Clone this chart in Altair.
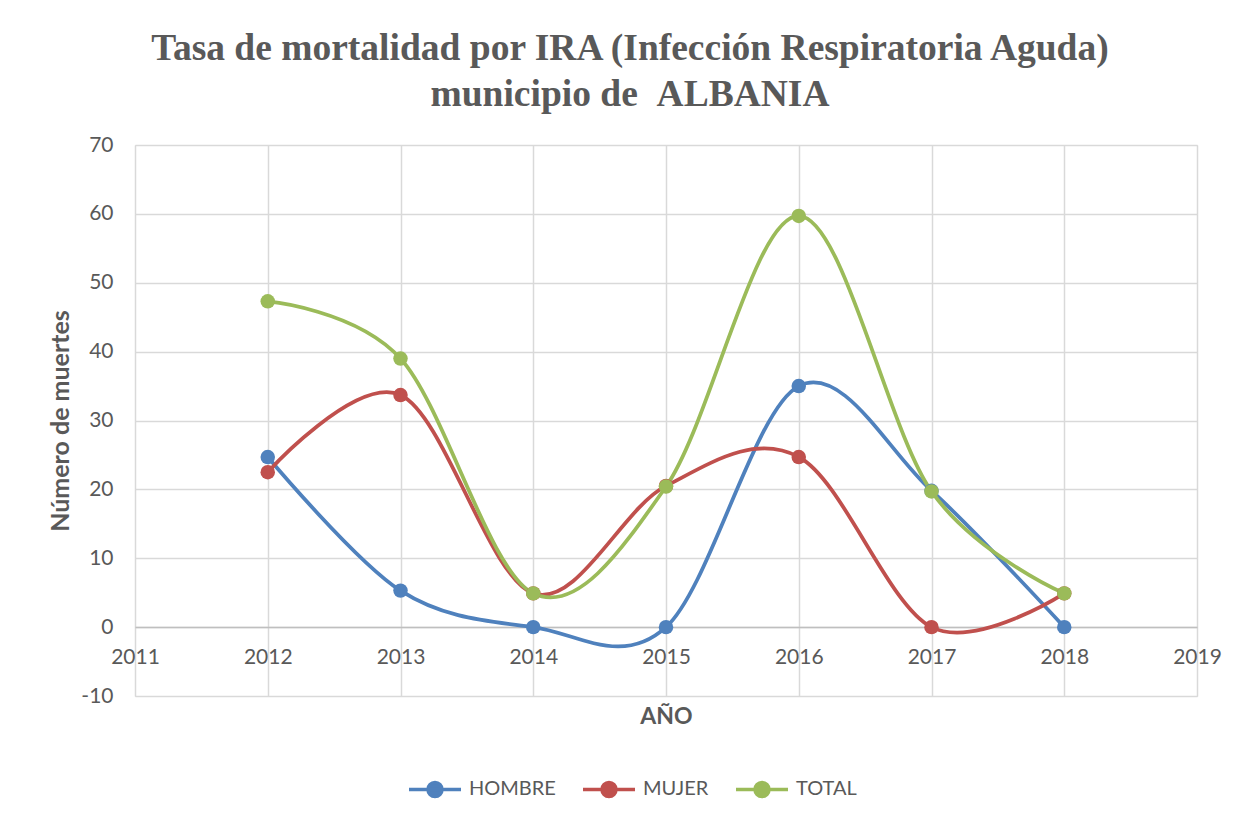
import altair as alt
import pandas as pd

years = [2012, 2013, 2014, 2015, 2016, 2017, 2018]
hombre = [24.7, 5.3, 0.0, 0.0, 35.0, 19.8, 0.0]
mujer = [22.5, 33.7, 4.9, 20.5, 24.7, 0.0, 4.9]
total = [47.3, 39.0, 4.9, 20.4, 59.7, 19.7, 4.9]
series = ["HOMBRE", "MUJER", "TOTAL"]
colors = ["#4f81bd", "#c0504d", "#9bbb59"]
x_ticks = [2011, 2012, 2013, 2014, 2015, 2016, 2017, 2018, 2019]
y_ticks = [-10, 0, 10, 20, 30, 40, 50, 60, 70]

rows = []
for name, vals in zip(series, [hombre, mujer, total]):
    for yr, v in zip(years, vals):
        rows.append({"year": yr, "value": v, "serie": name})
df = pd.DataFrame(rows)

FONT = "Lato"
GRAY = "#595959"
GRID = "#d9d9d9"

symbol_path = ("M-1,0L1,0M0.27,0A0.27,0.27,0,1,1,-0.27,0"
               "A0.27,0.27,0,1,1,0.27,0Z")

x_enc = alt.X(
    "year:Q",
    scale=alt.Scale(domain=[2011, 2019], nice=False, zero=False),
    axis=alt.Axis(
        values=x_ticks, format="d", title="AÑO", offset=-69,
        grid=True, gridColor=GRID, gridWidth=1.5,
        domain=True, domainColor="#bfbfbf", domainWidth=1.5,
        ticks=False, labelPadding=19, labelFontSize=21, labelColor=GRAY,
        labelFont=FONT, titleFont=FONT, titleFontSize=23, titleColor=GRAY,
        titleFontWeight="bold", titlePadding=38, labelFlush=False,
        labelBound=False, labelOverlap=False,
    ),
)
y_enc = alt.Y(
    "value:Q",
    scale=alt.Scale(domain=[-10, 70], nice=False, zero=False),
    axis=alt.Axis(
        values=y_ticks, title="Número de muertes",
        labelExpr="datum.value + ''",
        grid=True, gridColor=GRID, gridWidth=1.5,
        domain=False, ticks=False, labelPadding=22, labelFontSize=21,
        labelColor=GRAY, labelFont=FONT, titleFont=FONT, titleFontSize=25,
        titleColor=GRAY, titleFontWeight="bold", titlePadding=7,
    ),
)
color_enc = alt.Color(
    "serie:N",
    scale=alt.Scale(domain=series, range=colors),
    legend=alt.Legend(
        title=None, orient="none", direction="horizontal",
        legendX=272, legendY=616, symbolType=symbol_path, symbolSize=2704,
        symbolStrokeWidth=3.5, labelFont=FONT, labelFontSize=20,
        labelColor=GRAY, columnPadding=20, labelOffset=6,
        symbolOpacity=1,
    ),
)

base = alt.Chart(df).encode(x=x_enc, y=y_enc, color=color_enc)
lines = base.mark_line(interpolate="cardinal", tension=0, strokeWidth=3.75)
points = base.mark_point(filled=True, size=210, opacity=1)

chart = (
    alt.layer(lines, points)
    .properties(
        width=1062, height=551,
        title=alt.TitleParams(
            text=["Tasa de mortalidad por IRA (Infección Respiratoria Aguda)",
                  "municipio de \u00a0ALBANIA"],
            font="Liberation Serif", fontSize=37.5, fontWeight="bold",
            color=GRAY, anchor="middle", offset=21, lineHeight=46, dx=-36,
        ),
        padding={"left": 127, "top": 137, "right": 30, "bottom": 125},
        autosize=alt.AutoSizeParams(type="none"),
    )
    .configure_view(stroke=None)
    .configure(background="white")
)

chart.save("out.html", embed_options={"renderer": "svg", "actions": False})
